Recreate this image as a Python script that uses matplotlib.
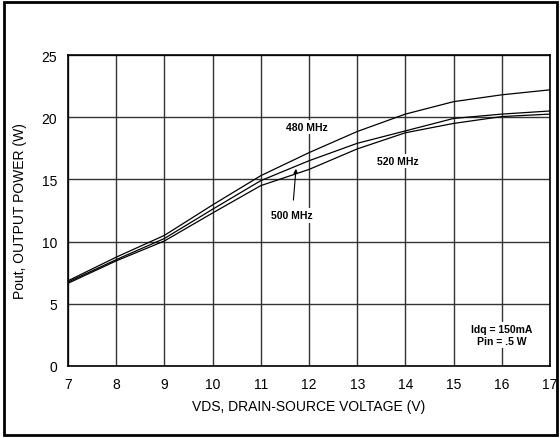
import matplotlib.pyplot as plt
from matplotlib.patches import Rectangle

plt.rcParams['font.family'] = ['Liberation Sans', 'DejaVu Sans']

# Tensao dreno-fonte (V)
vds = [7, 8, 9, 10, 11, 12, 13, 14, 15, 16, 17]

# Potencia de saida (W) por frequencia
pout_480 = [6.85, 8.75, 10.5, 12.95, 15.3, 17.15, 18.85, 20.25, 21.25, 21.8, 22.2]
pout_500 = [6.75, 8.55, 10.25, 12.6, 14.9, 16.5, 17.9, 18.9, 19.9, 20.25, 20.5]
pout_520 = [6.65, 8.45, 10.05, 12.3, 14.5, 15.8, 17.45, 18.75, 19.5, 20.05, 20.25]

fig = plt.figure(figsize=(5.6, 4.39), dpi=100)
ax = fig.add_axes([68 / 560, 1 - 367 / 439, (550 - 68) / 560, (367 - 56) / 439])

# moldura externa
fig.patches.append(Rectangle((4 / 560, 3 / 439), 553 / 560, 433 / 439,
                             transform=fig.transFigure, fill=False,
                             edgecolor='black', linewidth=2))

ax.plot(vds, pout_480, color='black', linewidth=0.9, zorder=3)
ax.plot(vds, pout_500, color='black', linewidth=0.9, zorder=3)
ax.plot(vds, pout_520, color='black', linewidth=0.9, zorder=3)

ax.set_xlim(7, 17)
ax.set_ylim(0, 25)
ax.set_xticks(vds)
ax.set_yticks([0, 5, 10, 15, 20, 25])
ax.grid(True, color='#333333', linewidth=1.0)
ax.tick_params(length=0, labelsize=10, pad=8)
for s in ax.spines.values():
    s.set_linewidth(1.2)

ax.set_xlabel('VDS, DRAIN-SOURCE VOLTAGE (V)', fontsize=10, labelpad=6)
ax.set_ylabel('Pout, OUTPUT POWER (W)', fontsize=10, labelpad=10)

box = dict(facecolor='white', edgecolor='none', pad=1.5)
ax.text(11.95, 19.2, '480 MHz', fontsize=7.5, fontweight='bold',
        ha='center', va='center', bbox=box, zorder=4)
ax.text(13.85, 16.5, '520 MHz', fontsize=7.5, fontweight='bold',
        ha='center', va='center', bbox=box, zorder=4)
ax.annotate('500 MHz', xy=(11.73, 15.85), xytext=(11.65, 12.1),
            fontsize=7.5, fontweight='bold', ha='center', va='center',
            bbox=box, zorder=4,
            arrowprops=dict(arrowstyle='-|>', color='black', lw=0.8,
                            mutation_scale=6, shrinkA=6, shrinkB=0))
ax.text(16, 2.5, 'Idq = 150mA\nPin = .5 W', fontsize=7.5, fontweight='bold',
        ha='center', va='center', linespacing=1.3, bbox=box, zorder=4)

fig.savefig('out.png', dpi=100)
